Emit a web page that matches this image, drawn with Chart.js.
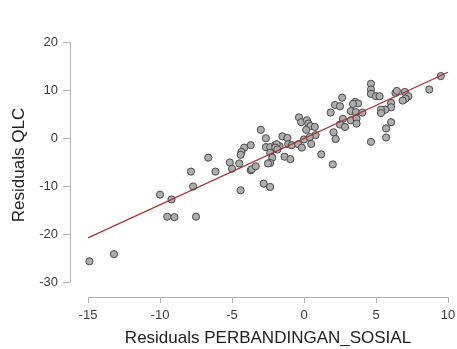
<!DOCTYPE html>
<html>
<head>
<meta charset="utf-8">
<script src="https://cdn.jsdelivr.net/npm/chart.js@4"></script>
<style>
  html, body { margin: 0; padding: 0; background: #fff; }
  #wrap { width: 457px; height: 349px; }
</style>
</head>
<body>
<div id="wrap"><canvas id="scatterChart" width="457" height="349"></canvas></div>
<script>
// residuals
const residX = [
  -14.9, -13.2, -10.0, -9.2, -9.5, -9.0, -7.5, -7.85, -7.7, -6.65,
  -6.15, -5.15, -4.5, -5.0, -3.7, -3.62, -3.35, -2.8, -2.35, -4.4,
  -3.0, -3.7, -4.15, -4.35, -4.4, -2.65, -1.5, -1.15, -2.65, -2.35,
  -2.0, -1.7, -1.9, -2.0, -2.35, -2.2, -2.35, -2.5, -1.35, -0.95,
  -1.1, -0.85, -0.4, -0.15, -0.35, -0.2, 0.2, 0.3, 0.45, 0.75,
  0.15, 0.8, 0.0, 0.4, 0.5, -1.85, 1.2, 2.0, 2.65, 2.15,
  2.5, 1.85, 3.55, 3.75, 3.4, 3.25, 3.6, 4.05, 2.7, 3.25,
  3.65, 3.65, 2.5, 2.85, 2.05, 2.2, 4.65, 4.65, 4.65, 4.65,
  5.0, 5.25, 6.35, 6.45, 7.0, 7.25, 7.05, 6.85, 6.05, 6.05,
  5.65, 5.35, 5.35, 6.05, 5.7, 5.7, 8.7, 9.5
]
const residY = [
  -25.7, -24.2, -11.8, -12.8, -16.4, -16.5, -16.4, -7.0, -10.1, -4.1,
  -7.0, -5.1, -5.3, -6.4, -6.7, -6.5, -5.9, -9.5, -10.2, -10.9,
  1.7, -1.5, -2.0, -2.9, -3.5, -0.05, 0.35, 0.0, -1.9, -1.9,
  -1.5, -1.7, -1.3, -2.0, -3.1, -4.1, -5.2, -5.3, -3.9, -4.4,
  -1.3, -1.5, -1.3, -2.0, 4.3, 3.3, 3.7, 3.0, 2.5, 2.3,
  1.7, 0.6, -0.3, 0.2, -1.25, -2.4, -3.4, -5.5, 8.4, 6.9,
  6.6, 5.3, 7.5, 7.2, 7.1, 5.6, 5.4, 5.3, 4.0, 3.7,
  4.0, 3.0, 2.8, 2.3, 1.2, -0.2, -0.8, 11.3, 10.1, 9.2,
  8.7, 8.7, 9.4, 9.8, 9.6, 8.7, 8.2, 7.8, 7.3, 6.4,
  5.9, 5.9, 5.2, 3.3, 2.0, 0.1, 10.1, 12.9
]

// fitted line ends
const fitX = [-15, 10]
const fitY = [-20.8, 13.7]

const xTicks = [-15, -10, -5, 0, 5, 10]
const yTicks = [-30, -20, -10, 0, 10, 20]

const xTitle = "Residuals PERBANDINGAN_SOSIAL"
const yTitle = "Residuals QLC"

const axisColor = "#b3b3b3"
const labelColor = "#3a3a3a"

// JASP style axes: detached lines that stop at the outer ticks
const jaspAxes = {
  id: "jaspAxes",
  afterDraw(chart) {
    const ctx = chart.ctx
    const xs = chart.scales.x
    const ys = chart.scales.y
    const xAxisY = 297
    const yAxisX = 70
    ctx.save()
    ctx.strokeStyle = axisColor
    ctx.lineWidth = 1

    ctx.beginPath()
    ctx.moveTo(xs.getPixelForValue(xTicks[0]), xAxisY + 0.5)
    ctx.lineTo(xs.getPixelForValue(xTicks[xTicks.length - 1]), xAxisY + 0.5)
    xTicks.forEach((t) => {
      const px = Math.round(xs.getPixelForValue(t)) + 0.5
      ctx.moveTo(px, xAxisY)
      ctx.lineTo(px, xAxisY + 6)
    })
    ctx.moveTo(yAxisX + 0.5, ys.getPixelForValue(yTicks[yTicks.length - 1]))
    ctx.lineTo(yAxisX + 0.5, ys.getPixelForValue(yTicks[0]))
    yTicks.forEach((t) => {
      const py = Math.round(ys.getPixelForValue(t)) + 0.5
      ctx.moveTo(yAxisX - 7, py)
      ctx.lineTo(yAxisX, py)
    })
    ctx.stroke()

    ctx.fillStyle = labelColor
    ctx.font = '13px "Liberation Sans", Arial, sans-serif'
    ctx.textAlign = "center"
    ctx.textBaseline = "middle"
    xTicks.forEach((t) => ctx.fillText(String(t), xs.getPixelForValue(t), 315))
    ctx.textAlign = "right"
    yTicks.forEach((t) => ctx.fillText(String(t), 58, ys.getPixelForValue(t)))

    ctx.fillStyle = "#222222"
    ctx.font = '17px "Liberation Sans", Arial, sans-serif'
    ctx.textAlign = "center"
    ctx.fillText(xTitle, (xs.left + xs.right) / 2, 338)
    ctx.translate(19, (ys.top + ys.bottom) / 2 + 3)
    ctx.rotate(-Math.PI / 2)
    ctx.fillText(yTitle, 0, 0)
    ctx.restore()
  },
}

const points = residX.map((x, i) => ({ x: x, y: residY[i] }))
const fitLine = fitX.map((x, i) => ({ x: x, y: fitY[i] }))

new Chart(document.getElementById("scatterChart").getContext("2d"), {
  type: "scatter",
  data: {
    datasets: [
      {
        type: "line",
        data: fitLine,
        borderColor: "#b03030",
        borderWidth: 1.2,
        pointRadius: 0,
        fill: false,
        clip: false,
      },
      {
        data: points,
        backgroundColor: "#adadad",
        borderColor: "#4a4a4a",
        borderWidth: 1,
        pointRadius: 3.6,
        clip: false,
      },
    ],
  },
  options: {
    responsive: false,
    animation: false,
    layout: { padding: { left: 88, right: 9, top: 42, bottom: 67 } },
    plugins: { legend: { display: false }, tooltip: { enabled: false } },
    scales: {
      x: { type: "linear", display: false, min: -15, max: 10 },
      y: { type: "linear", display: false, min: -30, max: 20 },
    },
  },
  plugins: [jaspAxes],
})
</script>
</body>
</html>
